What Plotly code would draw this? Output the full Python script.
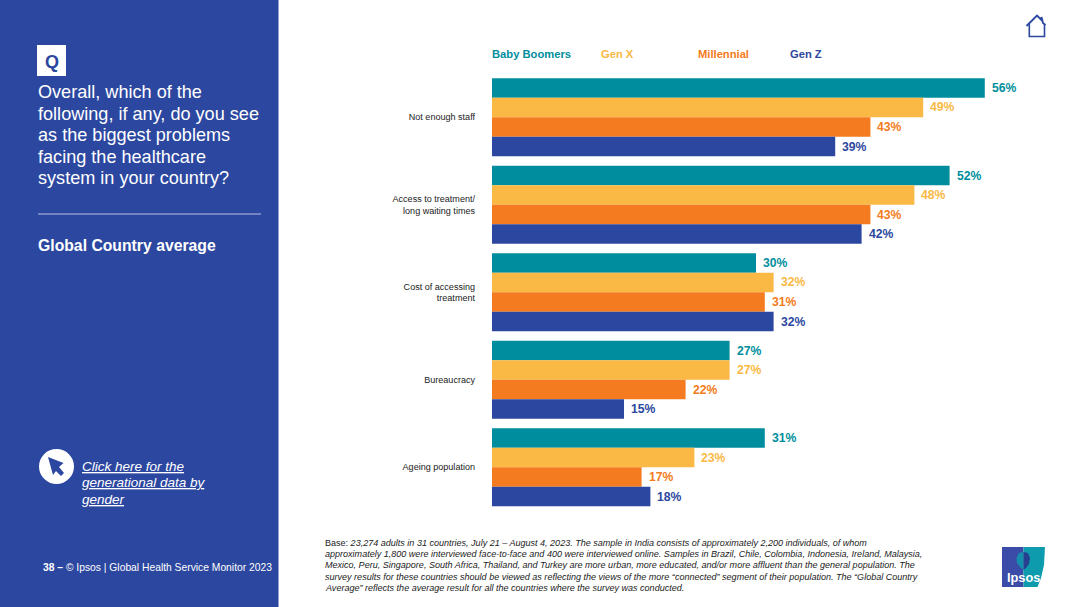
import plotly.graph_objects as go

W, H = 1080, 607
FONT = "Liberation Sans"
NAVY, TEAL, YELLOW, ORANGE = "#2C479F", "#008E9E", "#F9B944", "#F47B20"

categories = ["Not enough staff", "Access to treatment/<br>long waiting times",
              "Cost of accessing<br>treatment", "Bureaucracy", "Ageing population"]
series_names = ["Baby Boomers", "Gen X", "Millennial", "Gen Z"]
baby_boomers = [56, 52, 30, 27, 31]
gen_x = [49, 48, 32, 27, 23]
millennial = [43, 43, 31, 22, 17]
gen_z = [39, 42, 32, 15, 18]
series_values = [baby_boomers, gen_x, millennial, gen_z]
series_colors = [TEAL, YELLOW, ORANGE, NAVY]
legend_x = [492, 601, 698, 790]

question_lines = ["Overall, which of the", "following, if any, do you see",
                  "as the biggest problems", "facing the healthcare",
                  "system in your country?"]
link_lines = ["Click here for the", "generational data by", "gender"]
base_lines = [
    "Base: <i>23,274 adults in 31 countries, July 21 – August 4, 2023. The sample in India consists of approximately 2,200 individuals, of whom</i>",
    "<i>approximately 1,800 were interviewed face-to-face and 400 were interviewed online. Samples in Brazil, Chile, Colombia, Indonesia, Ireland, Malaysia,</i>",
    "<i>Mexico, Peru, Singapore, South Africa, Thailand, and Turkey are more urban, more educated, and/or more affluent than the general population. The</i>",
    "<i>survey results for these countries should be viewed as reflecting the views of the more “connected” segment of their population. The “Global Country</i>",
    "<i>Average” reflects the average result for all the countries where the survey was conducted.</i>",
]

fig = go.Figure()
for name, vals, col in zip(series_names, series_values, series_colors):
    fig.add_bar(y=categories, x=vals, name=name, orientation="h",
                marker=dict(color=col, line=dict(width=0)), showlegend=False)


def px(x):
    return x / W


def py(y):
    return 1 - y / H


def note(x, y, text, size, color="#FFFFFF", anchor="left"):
    fig.add_annotation(xref="paper", yref="paper", x=px(x), y=py(y), text=text,
                       showarrow=False, xanchor=anchor, yanchor="middle",
                       borderpad=0, borderwidth=0,
                       font=dict(family=FONT, size=size, color=color))


def shape_px(kind, x0, y0, x1, y1, **kw):
    fig.add_shape(type=kind, xref="paper", yref="paper", x0=px(x0), y0=py(y0),
                  x1=px(x1), y1=py(y1), **kw)


def path_px(points, fill=None, line=None, width=0, close=True):
    d = "M" + " L".join(f"{px(a):.5f},{py(b):.5f}" for a, b in points) + (" Z" if close else "")
    fig.add_shape(type="path", xref="paper", yref="paper", path=d, layer="above",
                  fillcolor=fill if fill else "rgba(0,0,0,0)",
                  line=dict(color=line if line else "rgba(0,0,0,0)", width=width))


# left panel
shape_px("rect", 0, 0, 278.5, H, fillcolor=NAVY, line=dict(width=0), layer="below")
shape_px("rect", 37, 45, 66, 76, fillcolor="#FFFFFF", line=dict(width=0))
note(51.5, 62, "<b>Q</b>", 18, NAVY, "center")
for i, t in enumerate(question_lines):
    note(38, 92 + i * 21.6, t, 18.1)
shape_px("line", 38, 214, 261, 214, line=dict(color="#B9C3E2", width=1))
note(38, 246, "<b>Global Country average</b>", 15.75)
shape_px("circle", 39, 449, 74, 484, fillcolor="#FFFFFF", line=dict(width=0))
path_px([(48, 457), (63.5, 463), (59, 467), (64, 473), (61, 476), (56, 471), (53, 475)], fill=NAVY)
for i, t in enumerate(link_lines):
    note(82, 466.5 + i * 16.3, f"<i><u>{t}</u></i>", 13.5)
note(43, 567, "<b>38 –</b> © Ipsos | Global Health Service Monitor 2023", 10.3)

# legend
for name, x, col in zip(series_names, legend_x, series_colors):
    note(x, 53.5, f"<b>{name}</b>", 11.2, col)

# value labels
for s, (vals, col) in enumerate(zip(series_values, series_colors)):
    for c, v in enumerate(vals):
        fig.add_annotation(xref="x", yref="paper", x=v,
                           y=py(117.25 + 87.5 * c + (s - 1.5) * 19.5),
                           text=f"<b>{v}%</b>", showarrow=False, xanchor="left",
                           yanchor="middle", xshift=6, borderpad=0,
                           font=dict(family=FONT, size=12.2, color=col))

# footnote
for i, t in enumerate(base_lines):
    note(324.5, 542.5 + i * 11.4, t, 9.04, "#222222")

# home icon
path_px([(1026.5, 26), (1037, 15.5), (1041.5, 20), (1041.5, 17), (1043, 23), (1045.5, 25)],
        line=NAVY, width=1.8, close=False)
path_px([(1029.3, 24), (1029.3, 36.5), (1044.5, 36.5), (1044.5, 24)], line=NAVY, width=1.6, close=False)

# Ipsos logo
path_px([(1002, 547), (1023.5, 547), (1023.5, 587), (1002, 587)], fill="#3B4CA8")
path_px([(1023.5, 547), (1045, 547), (1044, 565), (1041, 578), (1037.5, 587), (1023.5, 587)], fill="#0E9BAE")
path_px([(1023.5, 552), (1019, 553), (1016.5, 558), (1017, 563), (1020, 567), (1023.5, 570)], fill="#1590AC")
path_px([(1023.5, 552), (1028, 553), (1030, 558), (1029, 564), (1026, 568), (1023.5, 570)], fill="#27408F")
note(1023.5, 577, "<b>Ipsos</b>", 12.8, "#FFFFFF", "center")

fig.update_layout(
    width=W, height=H, autosize=False, barmode="group", bargap=1 - 78 / 87.5,
    bargroupgap=0, paper_bgcolor="#FFFFFF", plot_bgcolor="#FFFFFF",
    margin=dict(l=0, r=0, t=0, b=0), showlegend=False,
    font=dict(family=FONT),
    xaxis=dict(range=[0, 60], visible=False, fixedrange=True, domain=[492 / W, 1020 / W]),
    yaxis=dict(autorange="reversed", showgrid=False, zeroline=False, showline=False,
               ticks="", ticklabelstandoff=16, fixedrange=True, automargin=False,
               domain=[1 - 511 / H, 1 - 73.5 / H],
               tickfont=dict(family=FONT, size=9.05, color="#222222")),
)

fig.write_html("out.html", config=dict(displayModeBar=False),
               post_script="document.body.style.margin='0';document.body.style.overflow='hidden';")
